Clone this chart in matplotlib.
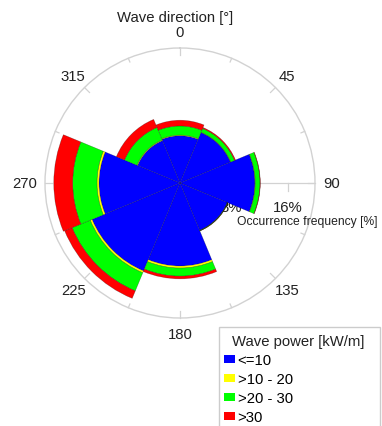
"""Wave rose: occurrence frequency by wave direction and wave power class."""

import numpy as np
import matplotlib

matplotlib.use("Agg")
import matplotlib.pyplot as plt
from matplotlib.patches import Patch, Rectangle

plt.rcParams["font.family"] = ["Liberation Sans", "DejaVu Sans"]

# --- data (occurrence frequency, %) ---
directions = [0, 45, 90, 135, 180, 225, 270, 315]
power_classes = ["<=10", ">10 - 20", ">20 - 30", ">30"]
class_colors = ["#0000FF", "#FFFF00", "#00FF00", "#FF0000"]
freq_le10 = [7.0, 8.1, 11.1, 7.6, 12.3, 14.1, 12.0, 6.8]
freq_10_20 = [0.1, 0.05, 0.05, 0.02, 0.3, 0.3, 0.3, 0.1]
freq_20_30 = [1.35, 0.6, 0.7, 0.05, 1.2, 2.9, 3.6, 2.0]
freq_gt30 = [0.85, 0.15, 0.05, 0.02, 0.4, 1.2, 2.8, 1.3]
angle_labels = ["0", "45", "90", "135", "180", "225", "270", "315"]
r_ticks = [8, 16]
r_max = 20

W, H = 382, 427
cx, cy, R = 180, 184, 135  # centre and radius of the rose in pixels
GRAY = "#d2d2d2"
TXT = "#222222"

fig = plt.figure(figsize=(W / 100, H / 100), dpi=100)
ax = fig.add_axes([(cx - R) / W, (H - cy - R) / H, 2 * R / W, 2 * R / H],
                  projection="polar")
ax.set_theta_zero_location("N")
ax.set_theta_direction(-1)
ax.set_ylim(0, r_max)
ax.grid(False)
ax.set_xticks([])
ax.set_yticks([])
ax.spines["polar"].set_color(GRAY)
ax.spines["polar"].set_linewidth(1.0)

# stacked sectors
theta = np.deg2rad(directions)
width = np.deg2rad(45)
bottom = np.zeros(len(directions))
for vals, col in zip([freq_le10, freq_10_20, freq_20_30, freq_gt30], class_colors):
    ax.bar(theta, vals, width=width, bottom=bottom, color=col,
           edgecolor=(0, 0, 0, 0.35), linewidth=0.4, zorder=3)
    bottom += np.array(vals)

# radial axis along 90 deg with ticks and labels (drawn under the bars)
px_per_unit = R / r_max
ax.plot([np.pi / 2, np.pi / 2], [0, r_max], color=GRAY, lw=0.9, zorder=1)
d = 8 / px_per_unit
for r in r_ticks:
    ax.plot([np.pi / 2, np.pi / 2 + np.arctan2(d, r)], [r, np.hypot(r, d)],
            color=GRAY, lw=0.9, zorder=1)
    ax.annotate(f"{r}%", xy=(np.pi / 2, r), xytext=(0 if r > 8 else -3, -24),
                textcoords="offset pixels", ha="center", va="center",
                fontsize=10.7, color=TXT, zorder=1, annotation_clip=False)

# inward ticks on the outer circle
for a in np.arange(0, 360, 22.5):
    length = 7 if a % 45 == 0 else 4
    ax.plot([np.deg2rad(a)] * 2, [r_max - length / px_per_unit, r_max],
            color=GRAY, lw=0.9, zorder=1, clip_on=False)

# direction labels
for a, lab in zip(directions, angle_labels):
    s, c = np.sin(np.deg2rad(a)), np.cos(np.deg2rad(a))
    if abs(s) > 0.9:
        x, y = cx + 143 * s, cy
        ha = "left" if s > 0 else "right"
    else:
        x, y = cx + 151 * s, cy - 151 * c
        ha = "center"
    fig.text(x / W, 1 - y / H, lab, ha=ha, va="center", fontsize=10.7,
             color=TXT)

fig.text(175 / W, 1 - 18 / H, "Wave direction [°]", ha="center", va="center",
         fontsize=10.7, color=TXT)
fig.text(237 / W, 1 - 222 / H, "Occurrence frequency [%]", ha="left",
         va="center", fontsize=8.7, color=TXT)

# legend: frame and title drawn separately to match the wide box
fig.patches.append(Rectangle((219 / W, -0.05), (380 - 219) / W, 0.05 + 1 - 328 / H,
                             transform=fig.transFigure, facecolor="white",
                             edgecolor="#cccccc", linewidth=1.0, zorder=0))
fig.text(298 / W, 1 - 342 / H, "Wave power [kW/m]", ha="center", va="center",
         fontsize=10.7, color=TXT)
handles = [Patch(facecolor=c, edgecolor="none") for c in class_colors]
leg = fig.legend(handles, power_classes, loc="upper left",
                 bbox_to_anchor=(219 / W, 1 - 349 / H),
                 frameon=False, fontsize=10.7, handlelength=0.75,
                 handleheight=0.4, handletextpad=0.15, labelspacing=0.34,
                 borderpad=0.35, borderaxespad=0)

fig.savefig("out.png", dpi=100)
